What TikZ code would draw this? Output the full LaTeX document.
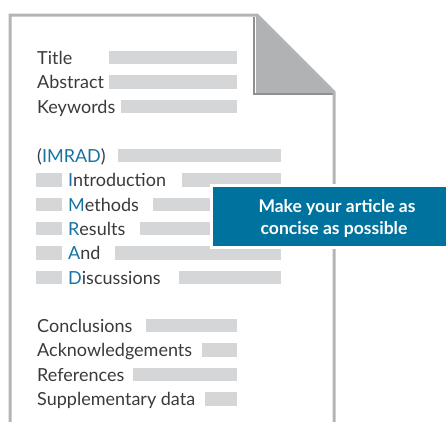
\documentclass[tikz,border=0pt]{standalone}
\usepackage{fontspec}
\setmainfont{Lato}
\definecolor{pageline}{HTML}{B3B4B6}
\definecolor{foldfill}{HTML}{B1B2B4}
\definecolor{foldedge}{HTML}{8E8F91}
\definecolor{barfill}{HTML}{D5D6D8}
\definecolor{txt}{HTML}{3A3A3C}
\definecolor{accent}{HTML}{1673A3}
\definecolor{boxblue}{HTML}{00729E}
\tikzset{
  itemtext/.style={anchor=base west, inner sep=0pt, text=txt, font=\fontsize{18}{20}\selectfont},
  boxtext/.style={anchor=base, inner sep=0pt, text=white, font=\fontsize{17.5}{20}\selectfont\bfseries},
  greybar/.style={fill=barfill},
}
\begin{document}
\begin{tikzpicture}[x=1pt,y=-1pt]
\useasboundingbox (0,0) rectangle (446,421);
% page
\fill[foldfill] (256,15) -- (335,93) -- (256,93) -- cycle;
\draw[foldedge, line width=1.5pt] (254,17) -- (254,94) -- (334,94);
\draw[pageline, line width=3pt, line join=miter] (10,423) -- (10,15) -- (257,15) -- (334,92) -- (334,423);
% first group
\node[itemtext] (title) at (37,64) {Title};
\node[itemtext] (abstract) at (37,88.5) {Abstract};
\node[itemtext] (keywords) at (37,113) {Keywords};
\fill[greybar] (109,50.5) rectangle (237,64);
\fill[greybar] (109,75) rectangle (237,88.5);
\fill[greybar] (121,99.5) rectangle (237,113);
% IMRAD group
\node[itemtext] (imrad) at (37,162) {(\textcolor{accent}{IMRAD})};
\fill[greybar] (118,148.5) rectangle (281,162);
\node[itemtext] (intro) at (68,186.5) {\textcolor{accent}{I}ntroduction};
\node[itemtext] (methods) at (68,211) {\textcolor{accent}{M}ethods};
\node[itemtext] (results) at (68,235) {\textcolor{accent}{R}esults};
\node[itemtext] (and) at (68,259.5) {\textcolor{accent}{A}nd};
\node[itemtext] (disc) at (68,284) {\textcolor{accent}{D}iscussions};
\foreach \y/\x in {186.5/182, 211/153, 235/140, 259.5/115, 284/179}{
  \fill[greybar] (36,\y-13.5) rectangle (62,\y);
  \fill[greybar] (\x,\y-13.5) rectangle (281,\y);
}
% last group
\node[itemtext] (concl) at (37,332) {Conclusions};
\node[itemtext] (ack) at (37,356.5) {Acknowledgements};
\node[itemtext] (refs) at (37,381) {References};
\node[itemtext] (supp) at (37,405.5) {Supplementary data};
\fill[greybar] (146,318.5) rectangle (237,332);
\fill[greybar] (202,343) rectangle (237,356.5);
\fill[greybar] (133,367.5) rectangle (237,381);
\fill[greybar] (205,392) rectangle (237,405.5);
% message box
\draw[white, line width=3pt, fill=boxblue] (211.5,185.5) rectangle (450,247.5);
\node[boxtext] (msgA) at (337,212) {Make your article as};
\node[boxtext] (msgB) at (334,234) {concise as possible};
\end{tikzpicture}
\end{document}
